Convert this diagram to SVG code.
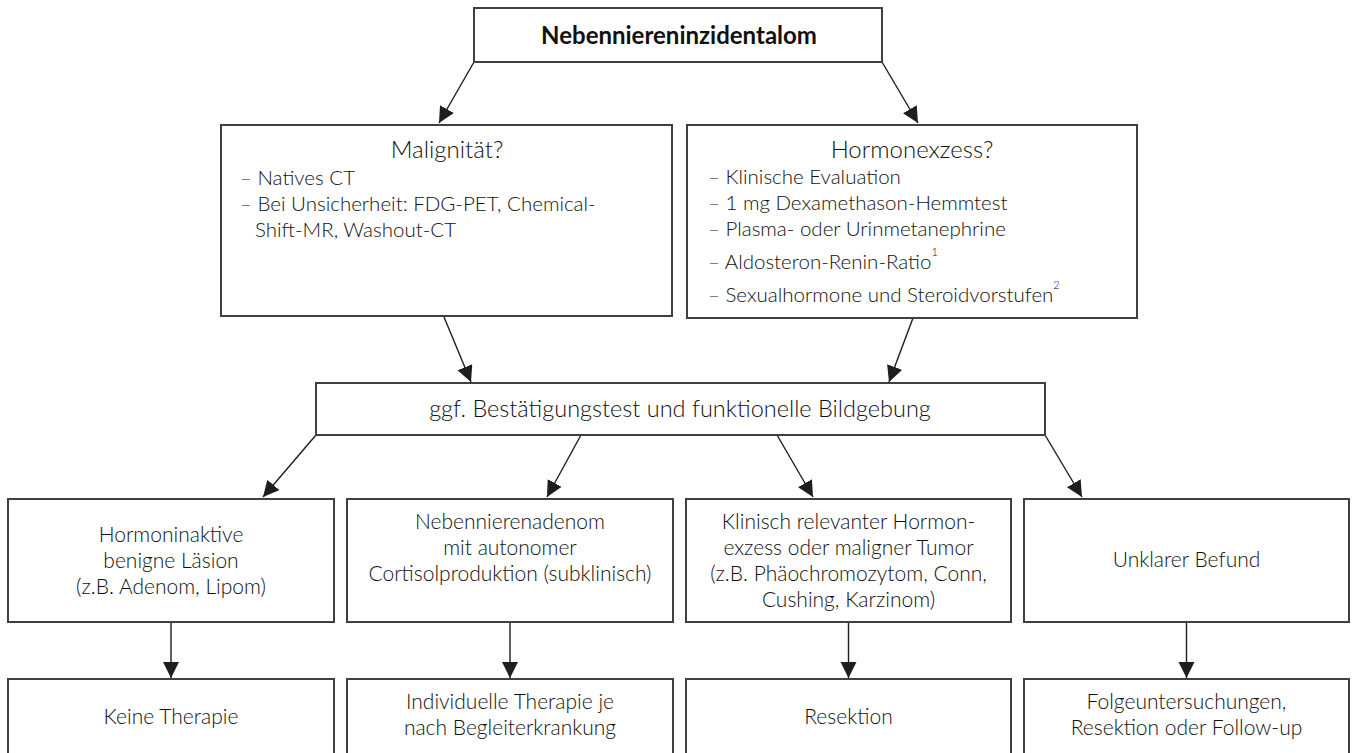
<svg xmlns="http://www.w3.org/2000/svg" width="1353" height="753" viewBox="0 0 1353 753">
<defs>
<marker id="ah" markerUnits="userSpaceOnUse" markerWidth="18" markerHeight="18" refX="16" refY="8" orient="auto">
<path d="M0,0 L16,8 L0,16 z" fill="#1e1e1e"/>
</marker>
<style>
.box{fill:#fff;stroke:#404040;stroke-width:2}
.t{font-family:"Lato","Open Sans","Liberation Sans",sans-serif;font-weight:300;font-size:21px;fill:#111}
.c{text-anchor:middle}
.l{font-size:20.5px}
.h{font-size:24px}
.m{font-size:23.5px}
.b{font-weight:700;font-size:24px}
.sup{font-size:11px}
.con{stroke:#1e1e1e;stroke-width:1.4;fill:none;marker-end:url(#ah)}
</style>
</defs>
<rect width="1353" height="753" fill="#fff"/>
<g id="connectors">
<line class="con" x1="474" y1="62" x2="439" y2="123"/>
<line class="con" x1="882" y1="62" x2="918" y2="123"/>
<line class="con" x1="444" y1="317" x2="471" y2="382"/>
<line class="con" x1="913" y1="318" x2="889" y2="382"/>
<line class="con" x1="316" y1="435" x2="263" y2="497"/>
<line class="con" x1="581" y1="435" x2="547" y2="497"/>
<line class="con" x1="777" y1="435" x2="813" y2="497"/>
<line class="con" x1="1045" y1="435" x2="1082" y2="497"/>
<line class="con" x1="171" y1="622" x2="171" y2="678"/>
<line class="con" x1="510" y1="622" x2="510" y2="678"/>
<line class="con" x1="848.5" y1="622" x2="848.5" y2="678"/>
<line class="con" x1="1186.5" y1="622" x2="1186.5" y2="678"/>
</g>
<g id="n-root">
<rect class="box" x="474" y="8" width="408" height="54"/>
<text class="t c b" x="679" y="44">Nebenniereninzidentalom</text>
</g>
<g id="n-malignitaet">
<rect class="box" x="221" y="125" width="451" height="191"/>
<text class="t c h" x="447" y="158">Malignität?</text>
<text class="t l" x="240" y="185">– Natives CT</text>
<text class="t l" x="240" y="211">– Bei Unsicherheit: FDG-PET, Chemical-</text>
<text class="t l" x="255" y="237">Shift-MR, Washout-CT</text>
</g>
<g id="n-hormonexzess">
<rect class="box" x="687" y="125" width="450" height="193"/>
<text class="t c h" x="912" y="158">Hormonexzess?</text>
<text class="t l" x="708" y="184">– Klinische Evaluation</text>
<text class="t l" x="708" y="210">– 1 mg Dexamethason-Hemmtest</text>
<text class="t l" x="708" y="236">– Plasma- oder Urinmetanephrine</text>
<text class="t l" x="708" y="269">– Aldosteron-Renin-Ratio<tspan class="sup" dy="-13">1</tspan></text>
<text class="t l" x="708" y="302">– Sexualhormone und Steroidvorstufen<tspan class="sup" dy="-13">2</tspan></text>
</g>
<g id="n-bestaetigung">
<rect class="box" x="316" y="383" width="729" height="52"/>
<text class="t c m" x="680" y="417">ggf. Bestätigungstest und funktionelle Bildgebung</text>
</g>
<g id="n-inaktiv">
<rect class="box" x="8" y="499" width="326" height="123"/>
<text class="t c" x="171" y="542">Hormoninaktive</text>
<text class="t c" x="171" y="568">benigne Läsion</text>
<text class="t c" x="171" y="594">(z.B. Adenom, Lipom)</text>
</g>
<g id="n-adenom">
<rect class="box" x="347" y="499" width="326" height="123"/>
<text class="t c" x="510" y="529">Nebennierenadenom</text>
<text class="t c" x="510" y="555">mit autonomer</text>
<text class="t c" x="510" y="581">Cortisolproduktion (subklinisch)</text>
</g>
<g id="n-exzess">
<rect class="box" x="686" y="499" width="325" height="123"/>
<text class="t c" x="848.5" y="529">Klinisch relevanter Hormon-</text>
<text class="t c" x="848.5" y="555">exzess oder maligner Tumor</text>
<text class="t c" x="848.5" y="581">(z.B. Phäochromozytom, Conn,</text>
<text class="t c" x="848.5" y="607">Cushing, Karzinom)</text>
</g>
<g id="n-unklar">
<rect class="box" x="1024" y="499" width="325" height="123"/>
<text class="t c" x="1186.5" y="567">Unklarer Befund</text>
</g>
<g id="n-keine">
<rect class="box" x="8" y="679" width="326" height="90"/>
<text class="t c" x="171" y="724">Keine Therapie</text>
</g>
<g id="n-individuell">
<rect class="box" x="347" y="679" width="326" height="90"/>
<text class="t c" x="510" y="709">Individuelle Therapie je</text>
<text class="t c" x="510" y="735">nach Begleiterkrankung</text>
</g>
<g id="n-resektion">
<rect class="box" x="686" y="679" width="325" height="90"/>
<text class="t c" x="848.5" y="724">Resektion</text>
</g>
<g id="n-folge">
<rect class="box" x="1024" y="679" width="325" height="90"/>
<text class="t c" x="1186.5" y="709">Folgeuntersuchungen,</text>
<text class="t c" x="1186.5" y="735">Resektion oder Follow-up</text>
</g>
</svg>
